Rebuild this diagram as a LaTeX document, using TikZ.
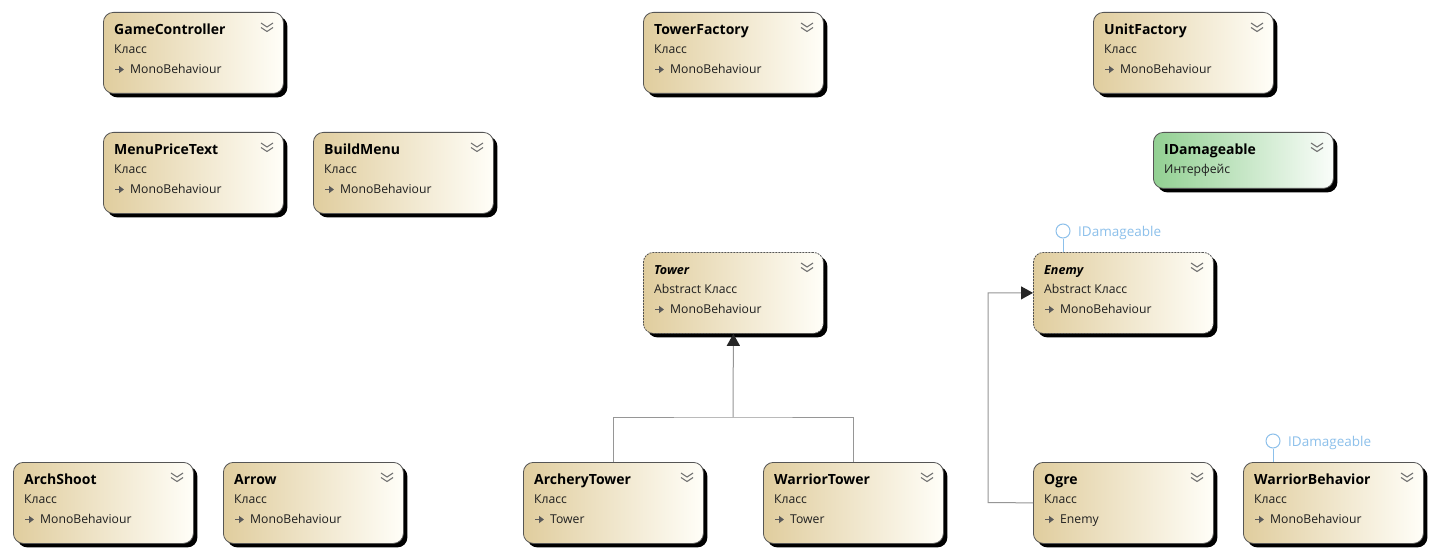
\documentclass[tikz,border=0pt]{standalone}
\usepackage{fontspec}
\setmainfont{Open Sans}
\usetikzlibrary{shadows,arrows.meta,calc}
\definecolor{tanL}{RGB}{224,205,158}
\definecolor{tanR}{RGB}{255,254,248}
\definecolor{grnL}{RGB}{146,208,146}
\definecolor{grnR}{RGB}{250,253,250}
\definecolor{lolli}{RGB}{140,192,235}
\definecolor{conn}{RGB}{150,150,150}
\definecolor{bord}{RGB}{85,85,85}
\definecolor{txt}{RGB}{30,30,30}
\tikzset{
  boxbase/.style={line width=0.8pt, rounded corners=10pt, minimum width=180pt,
    anchor=north west, inner sep=0pt,
    drop shadow={shadow xshift=4pt, shadow yshift=-4pt, fill=black, opacity=1}},
  umlbox/.style={boxbase, draw=bord, minimum height=81pt, left color=tanL, right color=tanR},
  absbox/.style={boxbase, draw=bord, dash pattern=on 2pt off 1pt, minimum height=81pt, left color=tanL, right color=tanR},
  ifacebox/.style={boxbase, draw=bord, minimum height=56pt, left color=grnL, right color=grnR},
  ttl/.style={font=\bfseries\fontsize{14}{16}\selectfont, text=black, anchor=base west, inner sep=0pt},
  attl/.style={font=\bfseries\itshape\fontsize{12.5}{14}\selectfont, text=black, anchor=base west, inner sep=0pt},
  body/.style={font=\fontsize{12.2}{14}\selectfont, text=txt, anchor=base west, inner sep=0pt},
  icon/.style={-{Triangle[length=5pt,width=7pt]}, line width=1.6pt, draw=black!65},
  chev/.style={draw=black!55, line width=1.1pt},
  conn/.style={draw=conn, line width=1pt},
  gen/.style={conn, -{Triangle[length=12pt,width=13pt,color=black!85]}},
  lollic/.style={circle, draw=lolli, line width=1pt, minimum size=14pt, inner sep=0pt, fill=white},
  lollit/.style={font=\fontsize{13.5}{15}\selectfont, text=lolli, anchor=west, inner sep=0pt},
}
% name, x, y, title, kind, parent, box style, title style
\newcommand\umlcls[8]{%
  \node[#7] (#1) at (#2,#3) {};
  \node[#8] (#1-t) at ([shift={(11,22.5)}]#1.north west) {#4};
  \node[body] (#1-k) at ([shift={(11,41.5)}]#1.north west) {#5};
  \draw[icon] ([shift={(12,57.5)}]#1.north west) -- ++(9,0);
  \node[body] (#1-p) at ([shift={(27,61.5)}]#1.north west) {#6};
  \draw[chev] ([shift={(158,11)}]#1.north west) -- ++(6,4) -- ++(6,-4);
  \draw[chev] ([shift={(158,15.5)}]#1.north west) -- ++(6,4) -- ++(6,-4);
}
\begin{document}
\begin{tikzpicture}[x=1pt,y=-1pt]
\useasboundingbox (0,0) rectangle (1434,556);
\fill[white] (0,0) rectangle (1434,556);

\umlcls{gc}{103}{12}{GameController}{Класс}{MonoBehaviour}{umlbox}{ttl}
\umlcls{tf}{643}{12}{TowerFactory}{Класс}{MonoBehaviour}{umlbox}{ttl}
\umlcls{uf}{1093}{12}{UnitFactory}{Класс}{MonoBehaviour}{umlbox}{ttl}
\umlcls{mpt}{103}{132}{MenuPriceText}{Класс}{MonoBehaviour}{umlbox}{ttl}
\umlcls{bm}{313}{132}{BuildMenu}{Класс}{MonoBehaviour}{umlbox}{ttl}

% interface
\node[ifacebox] (idm) at (1153,132) {};
\node[ttl] (idm-t) at ([shift={(11,22.5)}]idm.north west) {IDamageable};
\node[body] (idm-k) at ([shift={(11,41.5)}]idm.north west) {Интерфейс};
\draw[chev] ([shift={(158,11)}]idm.north west) -- ++(6,4) -- ++(6,-4);
\draw[chev] ([shift={(158,15.5)}]idm.north west) -- ++(6,4) -- ++(6,-4);

\umlcls{tower}{643}{252}{Tower}{Abstract Класс}{MonoBehaviour}{absbox}{attl}
\umlcls{enemy}{1033}{252}{Enemy}{Abstract Класс}{MonoBehaviour}{absbox}{attl}

\umlcls{as}{13}{462}{ArchShoot}{Класс}{MonoBehaviour}{umlbox}{ttl}
\umlcls{ar}{223}{462}{Arrow}{Класс}{MonoBehaviour}{umlbox}{ttl}
\umlcls{at}{523}{462}{ArcheryTower}{Класс}{Tower}{umlbox}{ttl}
\umlcls{wt}{763}{462}{WarriorTower}{Класс}{Tower}{umlbox}{ttl}
\umlcls{og}{1033}{462}{Ogre}{Класс}{Enemy}{umlbox}{ttl}
\umlcls{wb}{1243}{462}{WarriorBehavior}{Класс}{MonoBehaviour}{umlbox}{ttl}

% lollipops
\node[lollic] (l1) at (1063,231) {};
\draw[draw=lolli, line width=1pt] (l1.south) -- (l1.south |- enemy.north);
\node[lollit] (l1t) at (1078,233) {IDamageable};
\node[lollic] (l2) at (1273,441) {};
\draw[draw=lolli, line width=1pt] (l2.south) -- (l2.south |- wb.north);
\node[lollit] (l2t) at (1288,443) {IDamageable};

% generalisations
\coordinate (j) at (733,417);
\draw[conn] (at.north) |- (j) -| (wt.north);
\draw[gen] (j) -- (tower.south);
\coordinate (k) at (988,502.5);
\draw[gen] (og.west) -- (k) |- (enemy.west);
\end{tikzpicture}
\end{document}
